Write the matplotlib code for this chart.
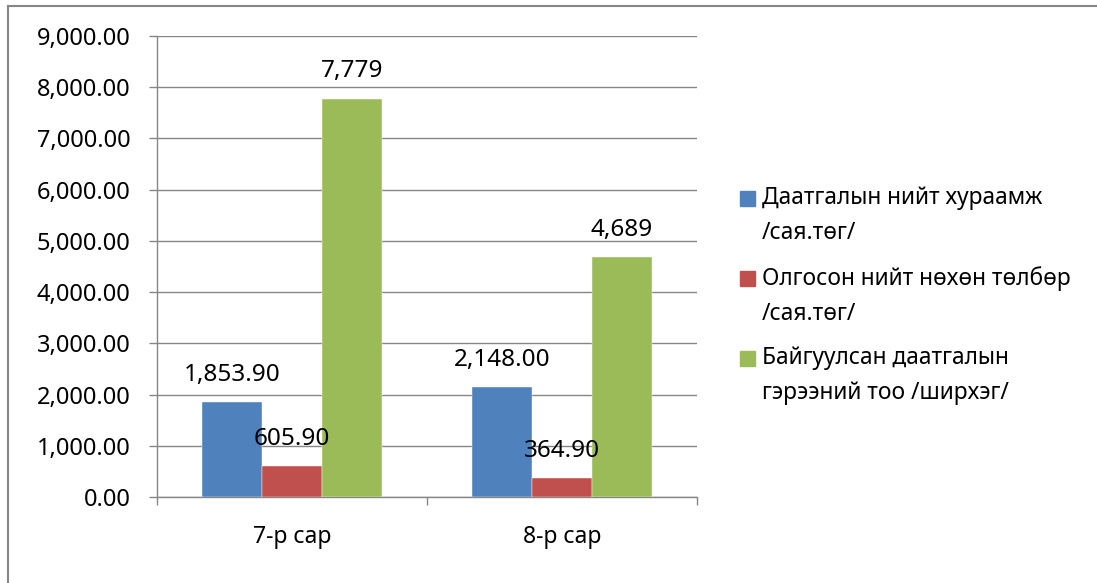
import matplotlib.pyplot as plt
from matplotlib.lines import Line2D
from matplotlib.patches import Rectangle
import numpy as np

plt.rcParams['font.family'] = ['Noto Sans', 'DejaVu Sans']

months = ['7-р сар', '8-р сар']
series_names = ['Даатгалын нийт хураамж\n/сая.төг/',
                'Олгосон нийт нөхөн төлбөр\n/сая.төг/',
                'Байгуулсан даатгалын\nгэрээний тоо /ширхэг/']
premium = [1853.90, 2148.00]
claims = [605.90, 364.90]
contracts = [7779, 4689]
label_fmt = ['{:,.2f}', '{:,.2f}', '{:,.0f}']
colors = ['#4F81BD', '#C0504D', '#9BBB59']

grid_col = '#868686'

fig = plt.figure(figsize=(10.97, 5.83), dpi=100)
ax = fig.add_axes([157 / 1097, 86 / 583, 540 / 1097, 461 / 583])

x = np.arange(len(months))
w = 0.2222
values = [premium, claims, contracts]
for i, (vals, col, fmt) in enumerate(zip(values, colors, label_fmt)):
    bars = ax.bar(x + (i - 1) * w, vals, w, color=col, zorder=3,
                  edgecolor='white', linewidth=0.3)
    for b, v in zip(bars, vals):
        ax.annotate(fmt.format(v), (b.get_x() + b.get_width() / 2, v),
                    xytext=(0, 19.5), textcoords='offset points',
                    ha='center', va='center', fontsize=17.5, zorder=4)

ax.set_xlim(-0.5, 1.5)
ax.set_ylim(0, 9000)
ax.set_yticks(np.arange(0, 9001, 1000))
ax.set_yticklabels(['{:,.2f}'.format(v) for v in np.arange(0, 9001, 1000)])
ax.yaxis.grid(True, color=grid_col, linewidth=1.0, zorder=0)

ax.set_xticks(x)
ax.set_xticklabels(months)
ax.set_xticks([-0.5, 0.5, 1.5], minor=True)
ax.tick_params(axis='x', which='major', length=0, pad=20, labelsize=16.5)
ax.tick_params(axis='x', which='minor', length=6, width=1.0, color=grid_col,
               direction='out')
ax.tick_params(axis='y', length=6, width=1.0, color=grid_col, pad=13,
               labelsize=17)

for s in ['top', 'right']:
    ax.spines[s].set_visible(False)
for s in ['left', 'bottom']:
    ax.spines[s].set_color(grid_col)
    ax.spines[s].set_linewidth(1.0)

# legend drawn by hand, square aligned with first line like the original
W, H = 1097, 583
for i, (name, col) in enumerate(zip(series_names, colors)):
    yc = 198 + i * 80
    fig.patches.append(Rectangle((740 / W, 1 - (yc + 7.5) / H), 15 / W, 15 / H,
                                 transform=fig.transFigure, color=col))
    fig.text(762 / W, 1 - (yc - 12) / H, name, ha='left', va='top',
             fontsize=16.4, linespacing=1.6)

# outer chart border (top and left visible)
fig.lines.append(Line2D([8 / W, 8 / W], [0, 1 - 6 / H], transform=fig.transFigure,
                        color=grid_col, linewidth=1.5))
fig.lines.append(Line2D([8 / W, 1], [1 - 6 / H, 1 - 6 / H], transform=fig.transFigure,
                        color=grid_col, linewidth=1.5))

fig.savefig('out.png', dpi=100)
